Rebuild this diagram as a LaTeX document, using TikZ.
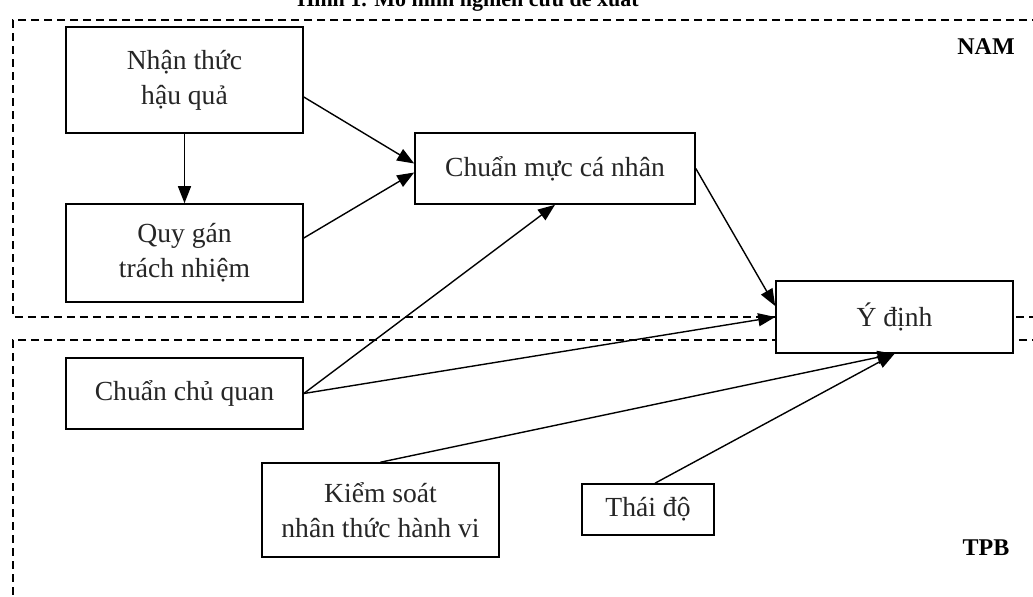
\documentclass[tikz,border=0pt]{standalone}
\usepackage{fontspec}
\setmainfont{Liberation Serif}
\usetikzlibrary{arrows.meta,calc}
\begin{document}
\begin{tikzpicture}[x=0.5pt,y=-0.5pt,
  box/.style={draw,line width=0.8pt,fill=white,align=center,inner sep=0pt,
    text=black!85,font=\fontsize{13.8}{17.5}\selectfont},
  region/.style={dashed,line width=0.7pt,dash pattern=on 4pt off 2.5pt},
  link/.style={line width=0.7pt,-{Triangle[length=8.5pt,width=6.5pt]}},
  tag/.style={font=\fontsize{12}{14}\selectfont\bfseries}]
\useasboundingbox (0,0) rectangle (1033,596);
% heading, cut by the page edge
\node[font=\fontsize{11}{13}\selectfont\bfseries,anchor=base] (title) at (468,6) {Hình 1. Mô hình nghiên cứu đề xuất};
% the two model regions
\draw[region] (1040,20) -- (13,20) -- (13,317) -- (1040,317);
\draw[region] (1040,340) -- (13,340) -- (13,600);
\node[tag] (nam) at (986,47) {NAM};
\node[tag] (tpb) at (986,548) {TPB};
% constructs
\node[box,minimum width=118.5pt,minimum height=53pt] (nt) at (184.5,80) {Nhận thức\\hậu quả};
\node[box,minimum width=118.5pt,minimum height=49pt] (qg) at (184.5,253) {Quy gán\\trách nhiệm};
\node[box,minimum width=140pt,minimum height=35.5pt] (cm) at (555,168.5) {Chuẩn mực cá nhân};
\node[box,minimum width=118.5pt,minimum height=36pt] (id) at (894.5,317) {Ý định};
\node[box,minimum width=118.5pt,minimum height=35.5pt] (cc) at (184.5,393.5) {Chuẩn chủ quan};
\node[box,minimum width=118.5pt,minimum height=47pt] (ks) at (380.5,510) {Kiểm soát\\nhân thức hành vi};
\node[box,minimum width=66pt,minimum height=25.5pt] (td) at (648,509.5) {Thái độ};
% relations
\draw[link] (nt.south) -- (qg.north);
\draw[link] ($(nt.east)+(0,17)$) -- ($(cm.west)+(0,-5)$);
\draw[link] ($(qg.east)+(0,-15)$) -- ($(cm.west)+(0,4)$);
\draw[link] (cc.east) -- (cm.south);
\draw[link] (cc.east) -- (id.west);
\draw[link] (cm.east) -- ($(id.west)+(0,-11)$);
\draw[link] (ks.north) -- (id.south);
\draw[link] ($(td.north)+(7,0)$) -- (id.south);
\end{tikzpicture}
\end{document}
